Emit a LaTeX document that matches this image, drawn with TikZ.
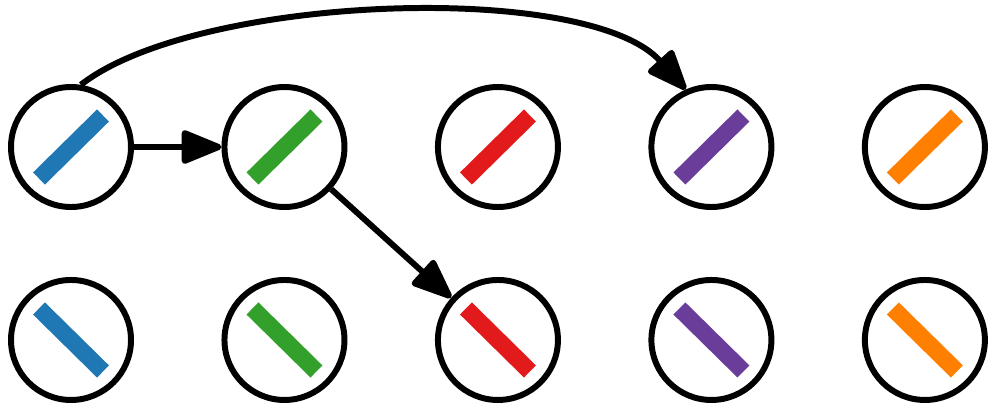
\documentclass[tikz,border=0pt]{standalone}
\usepackage{tikz}
\usepackage{xcolor}
\usetikzlibrary{arrows.meta, positioning}
\definecolor{colBlue}{HTML}{1F78B4}
\definecolor{colGreen}{HTML}{33A02C}
\definecolor{colRed}{HTML}{E31A1C}
\definecolor{colPurple}{HTML}{6A3D9A}
\definecolor{colOrange}{HTML}{FF7F00}
\tikzset{
  % Circle nodes
  ring/.style={
    draw, circle, line width=3.4pt,
    minimum size=2.4cm, inner sep=0pt,
  },
  % Coloured bars inside the circles
  bar/.style={line width=0.34cm},
  fwd/.style={ring, path picture={
      \draw[bar, #1] ([shift={(-0.64,-0.63)}]path picture bounding box.center)
                  -- ([shift={(0.64,0.63)}]path picture bounding box.center);}},
  bwd/.style={ring, path picture={
      \draw[bar, #1] ([shift={(-0.64,0.63)}]path picture bounding box.center)
                  -- ([shift={(0.64,-0.63)}]path picture bounding box.center);}},
  % Arrows
  arr/.style={-{Triangle[length=9mm,width=7mm,round]}, line width=3.4pt,
              line join=round},
}

\begin{document}
\begin{tikzpicture}[node distance=1.75cm and 1.75cm]

\useasboundingbox (0,0) rectangle (19.76,8.1);

%% TOP ROW
\node[fwd=colBlue]   (t1) at (1.42,5.16) {};
\node[fwd=colGreen,  right=of t1] (t2) {};
\node[fwd=colRed,    right=of t2] (t3) {};
\node[fwd=colPurple, right=of t3] (t4) {};
\node[fwd=colOrange, right=of t4] (t5) {};

%% BOTTOM ROW
\node[bwd=colBlue,   below=1.34cm of t1] (b1) {};
\node[bwd=colGreen,  below=1.34cm of t2] (b2) {};
\node[bwd=colRed,    below=1.34cm of t3] (b3) {};
\node[bwd=colPurple, below=1.34cm of t4] (b4) {};
\node[bwd=colOrange, below=1.34cm of t5] (b5) {};

%% Arrows
\draw[arr] (t1) -- (t2);
\draw[arr] (t2) -- (b3);
\draw[arr] (t1.81) to[out=38, in=132, looseness=0.62] (t4.114);

\end{tikzpicture}
\end{document}
